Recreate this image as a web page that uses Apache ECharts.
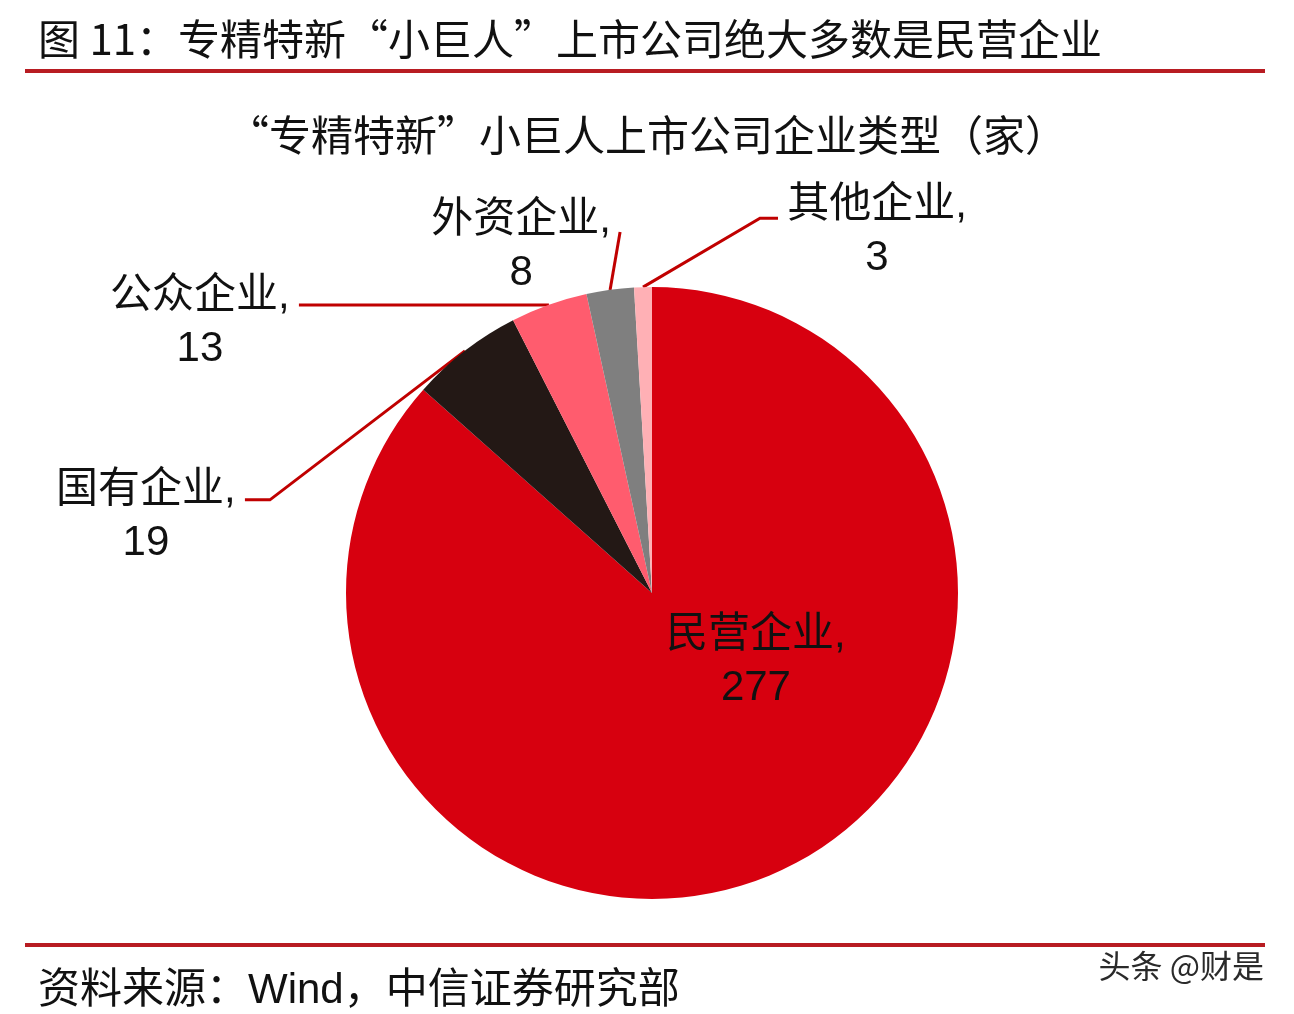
<!DOCTYPE html>
<html>
<head>
<meta charset="utf-8">
<script src="https://cdn.jsdelivr.net/npm/echarts@6/dist/echarts.min.js"></script>
<style>
html,body{margin:0;padding:0;background:#fff;}
#main{width:1294px;height:1014px;}
</style>
</head>
<body>
<div id="main"></div>
<script>
// ---- data ----
const categories = ['民营企业', '国有企业', '公众企业', '外资企业', '其他企业'];
const values = [277, 19, 13, 8, 3];
const headline = '图 11：专精特新“小巨人”上市公司绝大多数是民营企业';
const chartTitle = '“专精特新”小巨人上市公司企业类型（家）';
const sourceText = '资料来源：Wind，中信证券研究部';
const watermark = '头条 @财是';

// ---- styles ----
const sliceColors = ['#D7000F', '#231815', '#FF5C6E', '#7F7F7F', '#FFB0B5'];
const FONT = '"Liberation Sans", "Noto Sans CJK SC", sans-serif';
const CJK_FONT = '"Noto Sans CJK SC", "Liberation Sans", sans-serif';
// label placement relative to the slice's outer edge point (label centre + leader line bends)
const labelPlacement = [
  { dx: 40, dy: -73 },                                          // inside label (relative to default)
  { dx: -319, dy: 166, bends: [[-195, 149], [-220, 149]] },
  { dx: -349, dy: 18, bends: [[-250, 0], [-250, 0]] },
  { dx: -89, dy: -43, bends: [[10, -58], [10, -58]] },
  { dx: 234, dy: -55, bends: [[117, -69], [135, -69]] }
];

const chart = echarts.init(document.getElementById('main'), null, { renderer: 'canvas' });

const option = {
  backgroundColor: '#ffffff',
  animation: false,
  title: [
    { text: headline, left: 33, top: 9,
      textStyle: { fontFamily: CJK_FONT, fontSize: 42, fontWeight: 'normal', color: '#111', lineHeight: 50 } },
    { text: chartTitle, left: 'center', top: 105,
      textStyle: { fontFamily: CJK_FONT, fontSize: 42, fontWeight: 'normal', color: '#111', lineHeight: 50 } },
    { text: sourceText, left: 33, top: 961,
      textStyle: { fontFamily: FONT, fontSize: 42, fontWeight: 'normal', color: '#111', lineHeight: 50 } }
  ],
  graphic: [
    { type: 'rect', shape: { x: 25, y: 69, width: 1240, height: 4 }, style: { fill: '#B81C22' } },
    { type: 'rect', shape: { x: 25, y: 943, width: 1240, height: 4 }, style: { fill: '#B81C22' } },
    { type: 'text', right: 29, top: 949,
      style: { text: watermark, font: '32px "Noto Sans CJK SC", sans-serif', fill: '#2a2a2a',
               stroke: '#ffffff', lineWidth: 2 } }
  ],
  series: [{
    type: 'pie',
    center: [652, 593],
    radius: 306,
    startAngle: 90,
    clockwise: true,
    avoidLabelOverlap: false,
    itemStyle: { borderWidth: 0 },
    label: {
      show: true,
      position: 'outside',
      formatter: '{b},\n{c}',
      fontFamily: FONT,
      fontSize: 42,
      lineHeight: 53,
      color: '#111',
      align: 'center'
    },
    labelLine: {
      show: true, length: 20, length2: 20,
      lineStyle: { color: '#C00000', width: 3 }
    },
    labelLayout: function (params) {
      const p = labelPlacement[params.dataIndex];
      if (params.dataIndex === 0) {
        return { dx: p.dx, dy: p.dy };
      }
      const pts = params.labelLinePoints;
      const e = pts[0];
      return {
        x: e[0] + p.dx,
        y: e[1] + p.dy,
        align: 'center',
        verticalAlign: 'middle',
        labelLinePoints: [
          [e[0], e[1]],
          [e[0] + p.bends[0][0], e[1] + p.bends[0][1]],
          [e[0] + p.bends[1][0], e[1] + p.bends[1][1]]
        ]
      };
    },
    data: categories.map(function (name, i) {
      const item = { name: name, value: values[i], itemStyle: { color: sliceColors[i] } };
      if (i === 0) {
        item.label = { position: 'inside' };
        item.labelLine = { show: false };
      }
      return item;
    })
  }]
};
chart.setOption(option);
</script>
</body>
</html>
